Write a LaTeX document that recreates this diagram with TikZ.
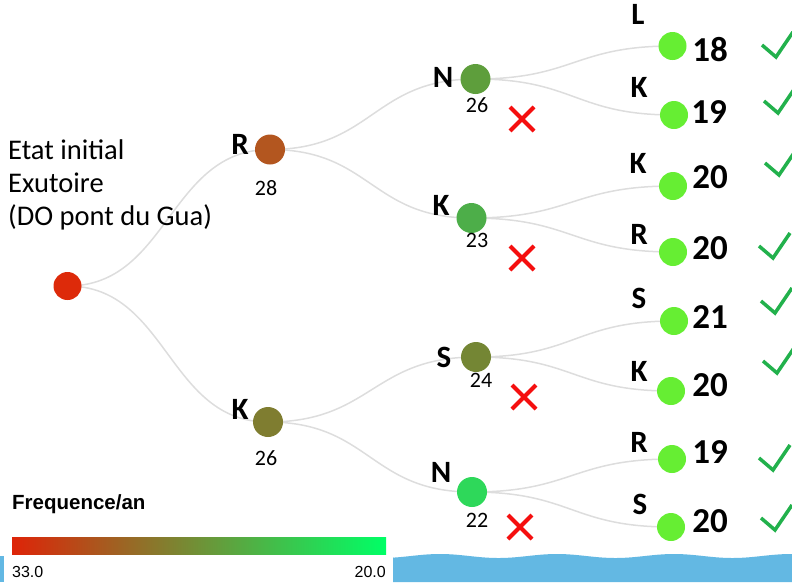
\documentclass[tikz,border=0pt]{standalone}
\usepackage{fontspec}
\setmainfont{Carlito}
\newfontfamily\arialf{Liberation Sans}
\usetikzlibrary{backgrounds,calc}
\definecolor{rootc}{RGB}{221,42,10}
\definecolor{rc}{RGB}{179,86,31}
\definecolor{kc}{RGB}{127,125,48}
\definecolor{nac}{RGB}{94,158,60}
\definecolor{kbc}{RGB}{77,174,73}
\definecolor{scc}{RGB}{116,134,52}
\definecolor{ndc}{RGB}{46,216,90}
\definecolor{leafc}{RGB}{102,238,51}
\definecolor{linkc}{RGB}{221,221,221}
\definecolor{tickc}{RGB}{34,177,76}
\definecolor{crossc}{RGB}{245,15,15}
\definecolor{waterc}{RGB}{99,184,227}
\definecolor{gl}{RGB}{222,36,8}
\definecolor{gm}{RGB}{128,135,48}
\definecolor{gr}{RGB}{0,255,102}
\tikzset{
  dot/.style={circle,inner sep=0pt,minimum size=30pt},
  smalldot/.style={circle,inner sep=0pt,minimum size=28pt},
  lbl/.style={font=\fontsize{31}{31}\selectfont\bfseries,inner sep=0pt},
  num/.style={font=\fontsize{22}{22}\selectfont,inner sep=0pt},
  big/.style={font=\fontsize{35}{35}\selectfont\bfseries,inner sep=0pt},
  link/.style={draw=linkc,line width=1.5pt},
  tick/.pic={\draw[tickc,line width=3.5pt] (-14,-12) -- (0,0) -- (17,-25);},
  cross/.pic={\draw[crossc,line width=4pt] (-12,-12) -- (12,12) (-12,12) -- (12,-12);}
}
\newcommand\lnk[2]{\draw[link] let \p1=(#1.center), \p2=(#2.center) in (\p1) .. controls ({(\x1+\x2)/2},\y1) and ({(\x1+\x2)/2},\y2) .. (\p2);}
\begin{document}
\begin{tikzpicture}[x=1pt,y=-1pt]
\useasboundingbox (0,0) rectangle (792,582);
% water
\fill[waterc] (393,582) -- (393,557) -- plot[domain=393:792,samples=120] (\x,{556-2*cos(3.077*(\x-440))}) -- (792,582) -- cycle;
\fill[waterc] (0,556) rectangle (4,582);
% title
\node[anchor=north west,align=left,inner sep=0pt,font=\fontsize{28.5}{33}\selectfont] (title) at (8,140) {Etat initial\\Exutoire\\(DO pont du Gua)};
% nodes
\node[smalldot,fill=rootc] (root) at (67.5,286) {};
\node[dot,fill=rc] (r1) at (270,149.5) {};
\node[dot,fill=kc] (k1) at (268,422) {};
\node[dot,fill=nac] (na) at (475.5,79) {};
\node[dot,fill=kbc] (kb) at (471.5,218) {};
\node[dot,fill=scc] (sc) at (476,357) {};
\node[dot,fill=ndc] (nd) at (472,492) {};
\node[smalldot,fill=leafc] (l1) at (672.5,46) {};
\node[smalldot,fill=leafc] (l2) at (674,115) {};
\node[smalldot,fill=leafc] (l3) at (673,186) {};
\node[smalldot,fill=leafc] (l4) at (673,252) {};
\node[smalldot,fill=leafc] (l5) at (674,321) {};
\node[smalldot,fill=leafc] (l6) at (671,391) {};
\node[smalldot,fill=leafc] (l7) at (672,459) {};
\node[smalldot,fill=leafc] (l8) at (671,527) {};
% links
\begin{pgfonlayer}{background}
\lnk{root}{r1}\lnk{root}{k1}
\lnk{r1}{na}\lnk{r1}{kb}
\lnk{k1}{sc}\lnk{k1}{nd}
\lnk{na}{l1}\lnk{na}{l2}
\lnk{kb}{l3}\lnk{kb}{l4}
\lnk{sc}{l5}\lnk{sc}{l6}
\lnk{nd}{l7}\lnk{nd}{l8}
\end{pgfonlayer}
% labels level 1
\node[lbl] (tr1) at (240,144) {R};
\node[num] (vr1) at (266,188) {28};
\node[lbl] (tk1) at (240,409) {K};
\node[num] (vk1) at (266,458) {26};
% labels level 2
\node[lbl] (tna) at (443,77) {N};
\node[num] (vna) at (477,105) {26};
\node[lbl] (tkb) at (441,205) {K};
\node[num] (vkb) at (477,240) {23};
\node[lbl] (tsc) at (444,357) {S};
\node[num] (vsc) at (481,380) {24};
\node[lbl] (tnd) at (441,472) {N};
\node[num] (vnd) at (477,520) {22};
\pic at (522,119) {cross};
\pic at (522,258) {cross};
\pic at (524,397) {cross};
\pic at (520,527) {cross};
% leaves
\node[lbl] (tl1) at (638,14) {L};
\node[big] (vl1) at (710,50) {18};
\node[lbl] (tl2) at (639,87) {K};
\node[big] (vl2) at (709,112) {19};
\node[lbl] (tl3) at (638,163) {K};
\node[big] (vl3) at (710,177) {20};
\node[lbl] (tl4) at (639,234) {R};
\node[big] (vl4) at (710,248) {20};
\node[lbl] (tl5) at (639,298) {S};
\node[big] (vl5) at (710,317) {21};
\node[lbl] (tl6) at (639,371) {K};
\node[big] (vl6) at (710,385) {20};
\node[lbl] (tl7) at (639,442) {R};
\node[big] (vl7) at (710,452) {19};
\node[lbl] (tl8) at (640,504) {S};
\node[big] (vl8) at (710,521) {20};
\pic at (776,57) {tick};
\pic at (778,113) {tick};
\pic at (779,175) {tick};
\pic at (773,258) {tick};
\pic at (775,313) {tick};
\pic at (777,373) {tick};
\pic at (773,470) {tick};
\pic at (775,530) {tick};
% legend
\node[anchor=base west,inner sep=0pt,font=\arialf\bfseries\fontsize{20.5}{20.5}\selectfont] (legt) at (12,509) {Frequence/an};
\shade[left color=gl,middle color=gm,right color=gr] (12,537) rectangle (386,554);
\node[anchor=base west,inner sep=0pt,font=\arialf\fontsize{16}{16}\selectfont] (lmin) at (12,577) {33.0};
\node[anchor=base east,inner sep=0pt,font=\arialf\fontsize{16}{16}\selectfont] (lmax) at (386,577) {20.0};
\end{tikzpicture}
\end{document}
